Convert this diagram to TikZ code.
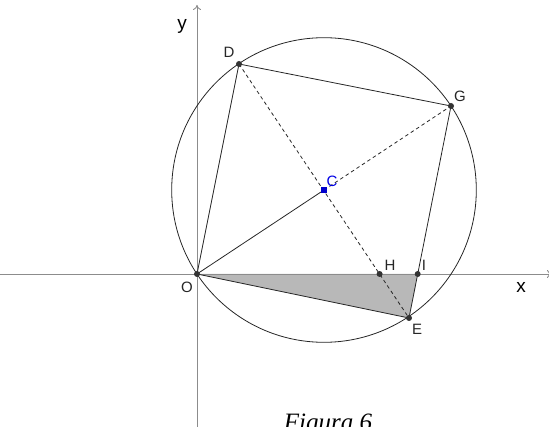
\documentclass[tikz,border=0pt]{standalone}
\usepackage{fontspec}
\setmainfont{Liberation Serif}
\setsansfont{Liberation Sans}
\usetikzlibrary{arrows.meta}
\begin{document}
\begin{tikzpicture}[x=1pt,y=-1pt,
  pt/.style={circle,fill=black!80,inner sep=0pt,minimum size=6pt},
  lbl/.style={font=\sffamily\fontsize{15}{15}\selectfont,text=black!85,inner sep=0pt},
  axis/.style={draw=black!45,line width=0.9pt},
  seg/.style={draw=black!85,line width=0.8pt},
  dseg/.style={draw=black!85,line width=0.8pt,dash pattern=on 3.5pt off 3pt}]
\useasboundingbox (0,0) rectangle (549,427);
\coordinate (xl) at (0,274);
\coordinate (xr) at (552,274);
\coordinate (yb) at (197,427);
\coordinate (yt) at (197,5);
\coordinate (Op) at (197,274);
\coordinate (Dp) at (239,64);
\coordinate (Gp) at (451,106);
\coordinate (Ep) at (409,318);
\coordinate (Cp) at (324,190);
\coordinate (Hp) at (379.6,274);
\coordinate (Ip) at (417.7,274);
% shaded triangle
\fill[black!28] (Op) -- (Ip) -- (Ep) -- cycle;
% axes
\draw[axis,-{To[length=5pt,width=8pt]}] (xl) -- (xr);
\draw[axis,-{To[length=5pt,width=8pt]}] (yb) -- (yt);
% circle
\draw[seg] (Cp) circle (152.3);
% square
\draw[seg] (Op) -- (Dp) -- (Gp) -- (Ep) -- cycle;
\draw[seg] (Op) -- (Cp);
\draw[dseg] (Cp) -- (Gp);
\draw[dseg] (Dp) -- (Ep);
% points
\node[pt] (O) at (Op) {};
\node[pt] (D) at (Dp) {};
\node[pt] (G) at (Gp) {};
\node[pt] (E) at (Ep) {};
\node[pt] (H) at (Hp) {};
\node[pt] (I) at (Ip) {};
\node[rectangle,fill=blue!80!black,inner sep=0pt,minimum size=5.5pt] (C) at (Cp) {};
% labels
\node[lbl] (lD) at (229,52) {D};
\node[lbl] (lG) at (460,96) {G};
\node[lbl,text=blue!90!black] (lC) at (332,181) {C};
\node[lbl] (lH) at (390,265) {H};
\node[lbl] (lI) at (424,265) {I};
\node[lbl] (lO) at (187,287) {O};
\node[lbl] (lE) at (417,329) {E};
\node[font=\sffamily\fontsize{19}{19}\selectfont,inner sep=0pt] (lx) at (521,287) {x};
\node[font=\sffamily\fontsize{19}{19}\selectfont,inner sep=0pt] (ly) at (182,26) {y};
\node[font=\itshape\fontsize{25}{25}\selectfont,inner sep=0pt,anchor=base] (fig) at (328,431) {Figura 6};
\end{tikzpicture}
\end{document}
